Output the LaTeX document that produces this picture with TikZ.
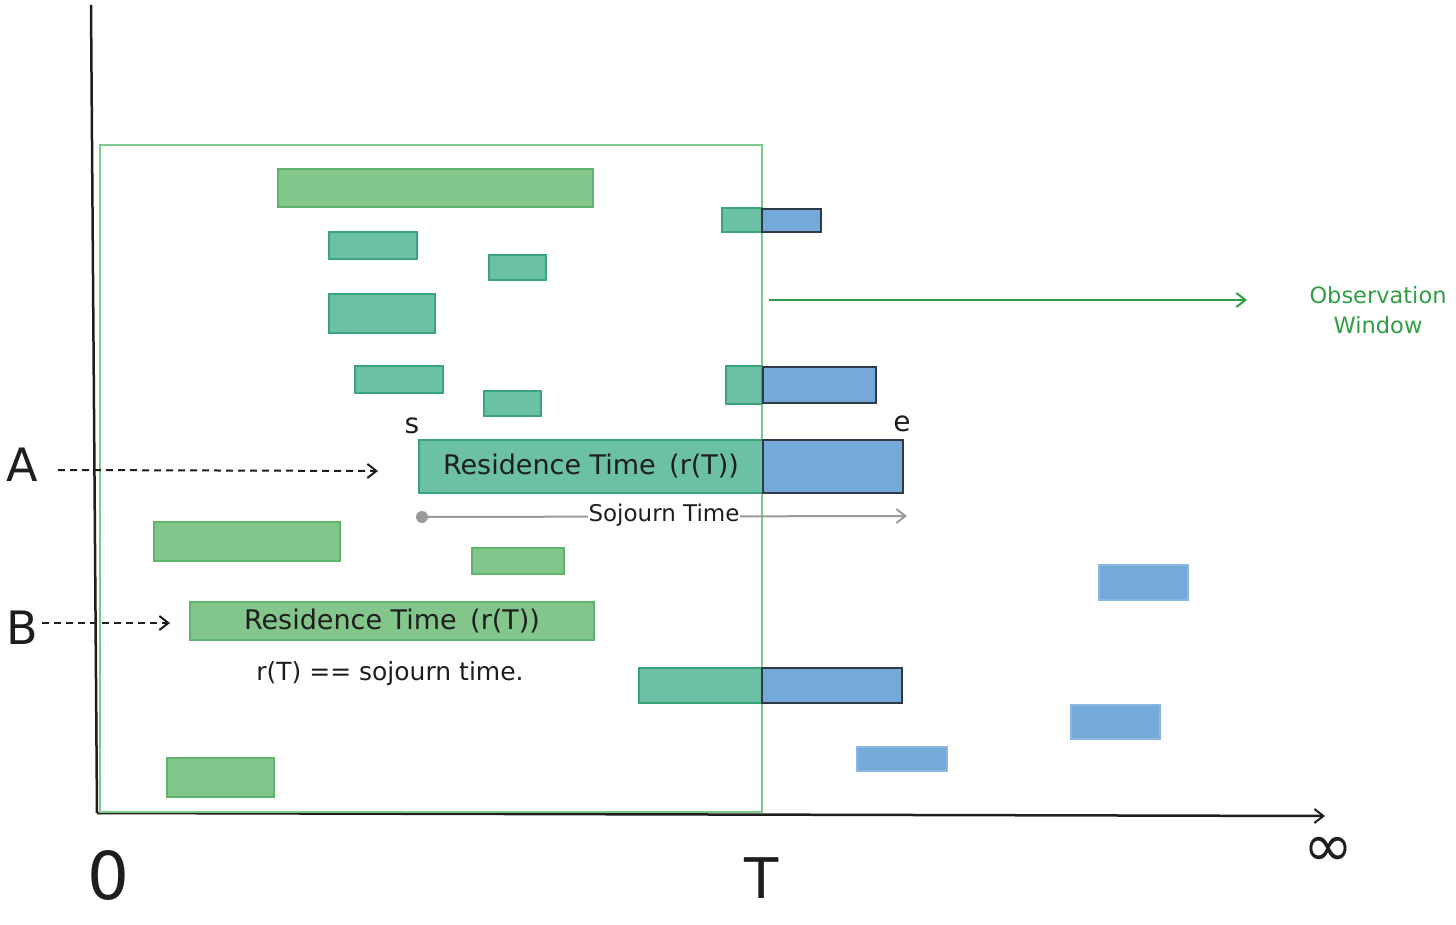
\documentclass[tikz,border=0pt]{standalone}
\usepackage{fontspec}
\setmainfont{DejaVu Sans}
\usetikzlibrary{arrows.meta}
\definecolor{lgfill}{HTML}{82C68C}
\definecolor{lgdraw}{HTML}{5DB46A}
\definecolor{tlfill}{HTML}{6CC0A5}
\definecolor{tldraw}{HTML}{3BA57A}
\definecolor{blfill}{HTML}{75A9DA}
\definecolor{bldraw}{HTML}{2F3A48}
\definecolor{wingreen}{HTML}{7CC98A}
\definecolor{obsgreen}{HTML}{2F9E44}
\definecolor{sojgray}{HTML}{9A9A9A}
\definecolor{ink}{HTML}{1E1E1E}
\begin{document}
\begin{tikzpicture}[x=1pt,y=-1pt,
  lgbar/.style={fill=lgfill,draw=lgdraw,line width=2pt},
  tlbar/.style={fill=tlfill,draw=tldraw,line width=2pt},
  blbar/.style={fill=blfill,draw=bldraw,line width=2pt},
  blflat/.style={fill=blfill,draw=blfill!85!white,line width=1.5pt},
  barnode/.style={inner sep=0pt,anchor=north west,font=\fontsize{27}{31}\selectfont,text=ink},
  big/.style={font=\fontsize{46}{52}\selectfont,text=ink,inner sep=0pt},
  tip/.style={-{Straight Barb[length=9pt,width=14pt,line width=2pt]}},
  dasharrow/.style={tip,dashed,dash pattern=on 7pt off 5pt,line width=2pt,draw=ink}
]
\useasboundingbox (0,0) rectangle (1456,925);
% axes
\draw[line width=2.5pt,draw=ink] (91,5) -- (97,813);
\draw[line width=2.5pt,draw=ink,tip] (97,813) -- (1325,816);
% observation window
\draw[draw=wingreen,line width=2pt] (100,145) rectangle (762,812);
% bars
\draw[lgbar] (278,169) rectangle (593,207);
\draw[tlbar] (329,232) rectangle (417,259);
\draw[tlbar] (489,255) rectangle (546,280);
\draw[tlbar] (329,294) rectangle (435,333);
\draw[tlbar] (355,366) rectangle (443,393);
\draw[tlbar] (484,391) rectangle (541,416);
\draw[tlbar] (722,208) rectangle (762,232);
\draw[blbar] (762,209) rectangle (821,232);
\draw[tlbar] (726,366) rectangle (762,404);
\draw[blbar] (763,367) rectangle (876,403);
\draw[lgbar] (154,522) rectangle (340,561);
\draw[lgbar] (472,548) rectangle (564,574);
\draw[tlbar] (639,668) rectangle (762,703);
\draw[blbar] (762,668) rectangle (902,703);
\draw[lgbar] (167,758) rectangle (274,797);
\draw[blflat] (1099,565) rectangle (1188,600);
\draw[blflat] (1071,705) rectangle (1160,739);
\draw[blflat] (857,747) rectangle (947,771);
% A row
\node[barnode,tlbar,minimum width=344pt,minimum height=53pt] (abar) at (418,439) {Residence Time\enspace(r(T))};
\node[barnode,blbar,minimum width=140pt,minimum height=53pt] (ablue) at (762,439) {};
\node[font=\fontsize{28}{32}\selectfont,text=ink] (s) at (412,426) {s};
\node[font=\fontsize{28}{32}\selectfont,text=ink] (e) at (902,424) {e};
\node[big] (A) at (22,465) {A};
\coordinate (astart) at (58,470);
\coordinate (atgt) at (378,471);
\draw[dasharrow] (astart) -- (atgt);
% sojourn
\coordinate (sstart) at (422,517);
\coordinate (send) at (907,516);
\fill[sojgray] (sstart) circle (6pt);
\draw[sojgray,line width=2pt,tip] (sstart) -- (send);
\node[fill=white,inner sep=1pt,font=\fontsize{23}{27}\selectfont,text=ink] (soj) at (664,515) {Sojourn Time};
% B row
\node[barnode,lgbar,minimum width=404pt,minimum height=38pt] (bbar) at (189,601) {Residence Time\enspace(r(T))};
\node[big] (B) at (22,628) {B};
\coordinate (bstart) at (42,623);
\coordinate (btgt) at (170,623);
\draw[dasharrow] (bstart) -- (btgt);
\node[font=\fontsize{25}{29}\selectfont,text=ink] (req) at (390,674) {r(T) == sojourn time.};
% observation window arrow
\coordinate (ostart) at (769,300);
\coordinate (oend) at (1247,300);
\node[font=\fontsize{22.5}{30}\selectfont,text=obsgreen,align=center] (obs) at (1378,310) {Observation\\Window};
\draw[obsgreen,line width=2pt,tip] (ostart) -- (oend);
% axis labels
\node[font=\fontsize{66}{72}\selectfont,text=ink,inner sep=0pt] (zero) at (108,875) {0};
\node[font=\fontsize{56}{62}\selectfont,text=ink,inner sep=0pt] (T) at (762,878) {T};
\node[font=\fontsize{60}{64}\selectfont,text=ink,inner sep=0pt] (inf) at (1328,852) {∞};
\end{tikzpicture}
\end{document}
